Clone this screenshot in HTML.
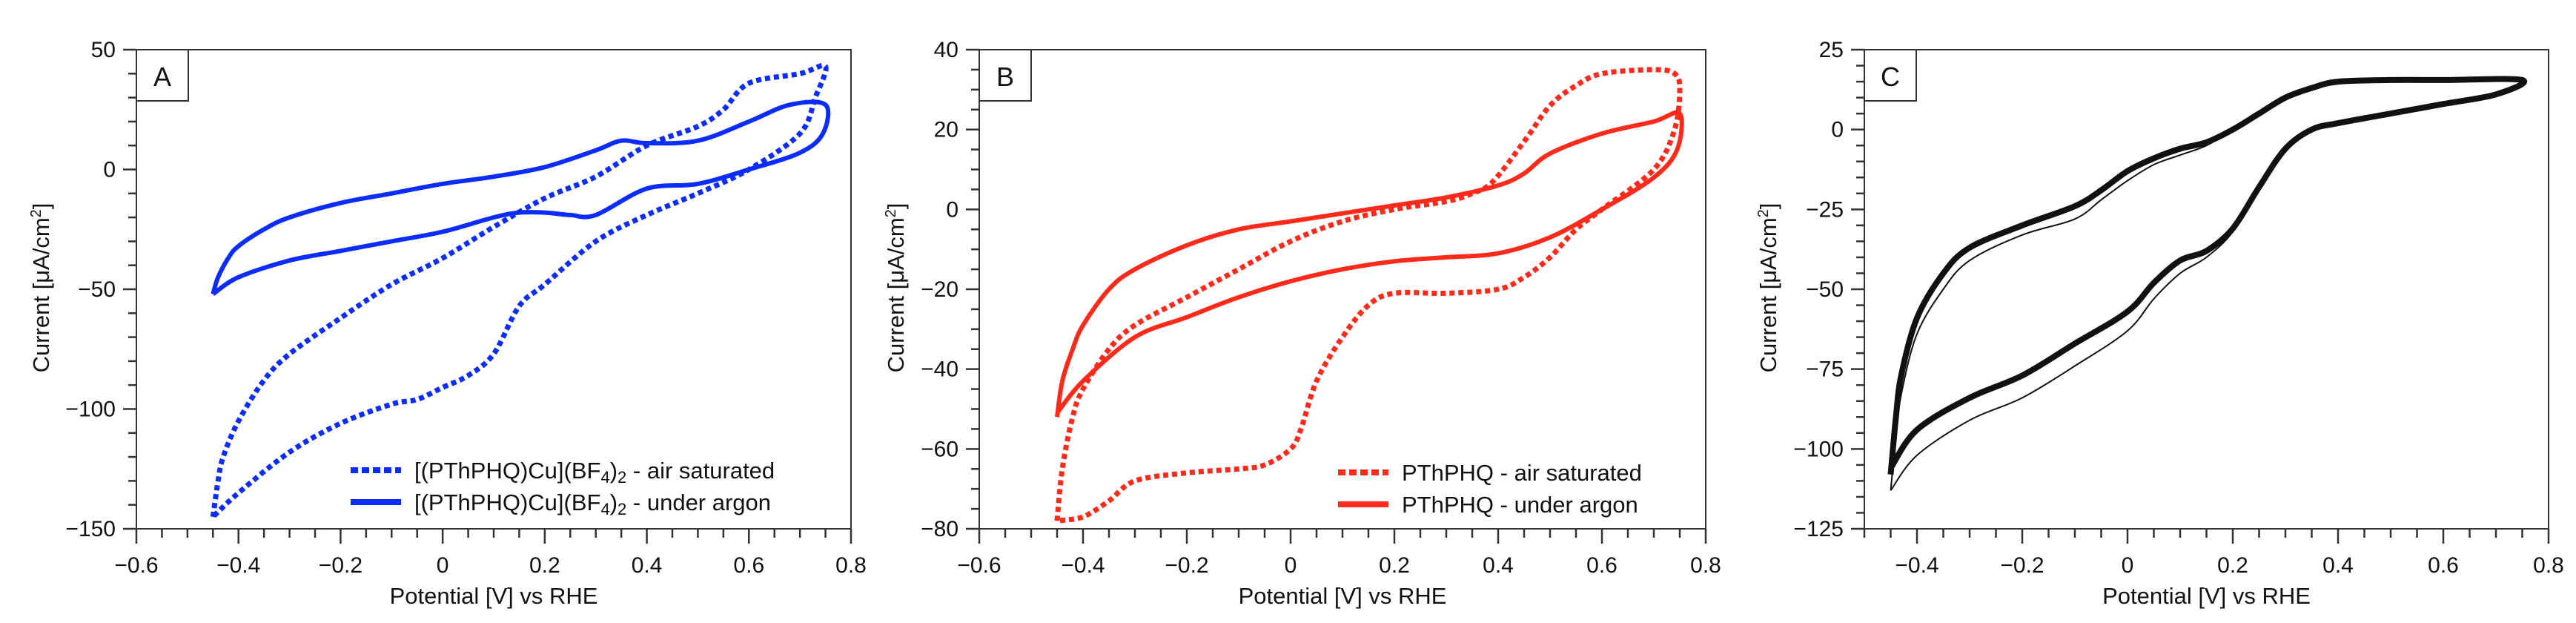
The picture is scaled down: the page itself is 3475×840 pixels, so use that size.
<!DOCTYPE html>
<html><head><meta charset="utf-8"><style>
html,body{margin:0;padding:0;background:#fff;}
svg{display:block;font-family:"Liberation Sans",Arial,sans-serif;}
</style></head><body>
<svg id="fig" width="3475" height="840" viewBox="0 0 3475 840" xmlns="http://www.w3.org/2000/svg"></svg>
<script>
// ---------- Panel A data ----------
const aArgonX = [-0.45,-0.44,-0.42,-0.4,-0.35,-0.3,-0.2,-0.1,0,0.1,0.2,0.3,0.35,0.4,0.5,0.6,0.68,0.75, 0.745,0.7,0.6,0.5,0.4,0.3,0.25,0.2,0.15,0.1,0,-0.1,-0.2,-0.3,-0.4,-0.45];
const aArgonY = [-52,-45,-37,-32,-25,-20,-14,-10,-6,-3,1,8,12,11,12,20,27,27, 15,7,0,-6,-8,-19,-19,-18,-18,-20,-26,-30,-34,-38,-45,-52];
const aAirX = [-0.45,-0.44,-0.43,-0.4,-0.35,-0.3,-0.2,-0.1,0,0.1,0.2,0.3,0.4,0.5,0.55,0.6,0.7,0.75, 0.73,0.7,0.6,0.5,0.4,0.3,0.2,0.15,0.1,0.05,0,-0.05,-0.1,-0.2,-0.3,-0.4,-0.45];
const aAirY = [-145,-130,-120,-105,-88,-77,-62,-48,-37,-24,-12,-3,10,18,25,36,40,43, 30,15,0,-10,-19,-30,-48,-57,-77,-86,-91,-96,-98,-106,-118,-135,-145];
const aXTicks = [-0.6,-0.4,-0.2,0,0.2,0.4,0.6,0.8];
const aYTicks = [50,0,-50,-100,-150];
// ---------- Panel B data ----------
const bArgonX = [-0.45,-0.44,-0.42,-0.4,-0.35,-0.3,-0.2,-0.1,0,0.1,0.2,0.3,0.4,0.45,0.5,0.6,0.7,0.75, 0.745,0.7,0.6,0.5,0.4,0.3,0.2,0.1,0,-0.1,-0.2,-0.3,-0.4,-0.45];
const bArgonY = [-52,-43,-35,-29,-20,-15,-9,-5,-3,-1,1,3,6,9,14,19,22,24, 15,8,0,-7,-11,-12,-13,-15,-18,-22,-27,-32,-43,-51];
const bAirX = [-0.45,-0.44,-0.42,-0.4,-0.35,-0.3,-0.2,-0.1,0,0.1,0.2,0.3,0.35,0.39,0.45,0.5,0.55,0.6,0.7,0.74,0.75, 0.74,0.7,0.6,0.55,0.5,0.45,0.4,0.3,0.2,0.15,0.1,0.05,0.02,0,-0.05,-0.1,-0.2,-0.3,-0.35,-0.4,-0.45];
const bAirY = [-78,-65,-52,-45,-35,-29,-22,-15,-8,-3,0,2,4,7,17,26,31,34,35,34,30, 20,10,0,-5,-12,-17,-20,-21,-21,-24,-32,-43,-55,-60,-64,-65,-66,-68,-73,-77,-78];
const bXTicks = [-0.6,-0.4,-0.2,0,0.2,0.4,0.6,0.8];
const bYTicks = [40,20,0,-20,-40,-60,-80];
// ---------- Panel C data ----------
const cMainX = [-0.45,-0.44,-0.43,-0.4,-0.35,-0.3,-0.2,-0.1,-0.05,0,0.05,0.1,0.15,0.2,0.25,0.3,0.35,0.4,0.5,0.6,0.75, 0.7,0.6,0.5,0.4,0.35,0.3,0.25,0.2,0.15,0.1,0.05,0,-0.1,-0.2,-0.3,-0.4,-0.45];
const cMainY = [-108,-90,-77,-59,-45,-37,-30,-24,-19,-13,-9,-6,-4,0,5,10,13,15,15.5,15.5,15.5, 11,8,5,2,0,-6,-18,-31,-38,-41,-48,-57,-67,-77,-84,-94,-106];
const cFirstY = [-113,-96,-83,-64,-50,-41,-33,-28,-22,-16,-11,-8,-5,0,5,10,13,15,15.5,15.5,15.5, 11,8,5,2,0,-6,-18,-32,-40,-45,-53,-63,-74,-84,-91,-102,-113];
const cXTicks = [-0.4,-0.2,0,0.2,0.4,0.6,0.8];
const cYTicks = [25,0,-25,-50,-75,-100,-125];

const NS = "http://www.w3.org/2000/svg";
const svg = document.getElementById('fig');
function mk(tag, attrs, parent){ const e=document.createElementNS(NS,tag); for(const k in attrs) e.setAttribute(k,attrs[k]); (parent||svg).appendChild(e); return e; }
function smooth(pts){
  let d = "M"+pts[0][0].toFixed(1)+","+pts[0][1].toFixed(1);
  for(let i=0;i<pts.length-1;i++){
    const p0=pts[Math.max(0,i-1)], p1=pts[i], p2=pts[i+1], p3=pts[Math.min(pts.length-1,i+2)];
    const c1=[p1[0]+(p2[0]-p0[0])/6, p1[1]+(p2[1]-p0[1])/6];
    const c2=[p2[0]-(p3[0]-p1[0])/6, p2[1]-(p3[1]-p1[1])/6];
    d+=" C"+c1[0].toFixed(1)+","+c1[1].toFixed(1)+" "+c2[0].toFixed(1)+","+c2[1].toFixed(1)+" "+p2[0].toFixed(1)+","+p2[1].toFixed(1);
  }
  return d;
}
function fmt(v){ return (v<0?"\u2212":"")+String(Math.abs(v)); }

function panel(o){
  const g = mk('g',{});
  
  
  const X = v => o.L + (v-o.xmin)/(o.xmax-o.xmin)*(o.R-o.L);
  const Y = v => o.T + (o.ymax-v)/(o.ymax-o.ymin)*(o.B-o.T);
  const frame = mk('rect',{x:o.L,y:o.T,width:o.R-o.L,height:o.B-o.T,fill:'none',stroke:'#333','stroke-width':2},g);
  
  
  const ya = mk('g',{},g);
  
  
  for(let v=o.ymax; v>=o.ymin-1e-9; v-=o.yMinor){
    const major = o.yTicks.some(t=>Math.abs(t-v)<1e-6);
    mk('line',{x1:o.L-(major?18:11),x2:o.L,y1:Y(v),y2:Y(v),stroke:'#333','stroke-width':2.5},ya);
  }
  o.yTicks.forEach(v=>{
    const t=mk('text',{x:o.L-28,y:Y(v)+10,'text-anchor':'end','font-size':30,fill:'#111'},ya);
    t.textContent=fmt(v);
    
    
  });
  const xa = mk('g',{},g);
  
  
  for(let v=o.xmin; v<=o.xmax+1e-9; v+=0.05){
    const major = o.xTicks.some(t=>Math.abs(t-v)<1e-6);
    mk('line',{x1:X(v),x2:X(v),y1:o.B,y2:o.B+(major?20:12),stroke:'#333','stroke-width':2.5},xa);
  }
  o.xTicks.forEach(v=>{
    const t=mk('text',{x:X(v),y:o.B+59,'text-anchor':'middle','font-size':30,fill:'#111'},xa);
    t.textContent=fmt(v);
    
    
  });
  const xt=mk('text',{x:(o.L+o.R)/2,y:814,'text-anchor':'middle','font-size':31,fill:'#111'},g);
  xt.textContent='Potential [V] vs RHE';
  
  
  const yt=mk('text',{x:0,y:0,'text-anchor':'middle','font-size':31,fill:'#111',transform:`translate(${o.yTitleX},388) rotate(-90)`},g);
  yt.innerHTML='Current [\u03bcA/cm<tspan baseline-shift="super" font-size="20">2</tspan>]';
  
  
  o.series.forEach(s=>{
    const pts = s.x.map((xv,i)=>[X(xv),Y(s.y[i])]);
    const p = mk('path',{d:smooth(pts),fill:'none',stroke:s.color,'stroke-width':s.w,'stroke-linejoin':'round'},g);
    if(s.dash) p.setAttribute('stroke-dasharray',s.dash);
    
    
  });
  const lb=mk('rect',{x:o.L,y:o.T,width:o.boxW,height:69,fill:'#fff',stroke:'#333','stroke-width':2},g);
  
  
  const lt=mk('text',{x:o.L+o.boxW/2,y:o.T+49,'text-anchor':'middle','font-size':36,fill:'#111'},g);
  lt.textContent=o.id;
  
  
}

panel({id:'A',L:184,R:1148,T:67,B:713,xmin:-0.6,xmax:0.8,ymin:-150,ymax:50,yMinor:10,
  xTicks:aXTicks,yTicks:aYTicks,yTitleX:66,boxW:70,
  series:[{name:'series-a-air-saturated',x:aAirX,y:aAirY,color:'#0a2cff',w:7,dash:'7 5'},
          {name:'series-a-under-argon',x:aArgonX,y:aArgonY,color:'#0a2cff',w:6}]});
panel({id:'B',L:1321,R:2301,T:67,B:713,xmin:-0.6,xmax:0.8,ymin:-80,ymax:40,yMinor:5,
  xTicks:bXTicks,yTicks:bYTicks,yTitleX:1219,boxW:70,
  series:[{name:'series-b-air-saturated',x:bAirX,y:bAirY,color:'#ff2a1a',w:7,dash:'7 5'},
          {name:'series-b-under-argon',x:bArgonX,y:bArgonY,color:'#ff2a1a',w:6}]});
panel({id:'C',L:2515,R:3438,T:67,B:713,xmin:-0.5,xmax:0.8,ymin:-125,ymax:25,yMinor:5,
  xTicks:cXTicks,yTicks:cYTicks,yTitleX:2396,boxW:70,
  series:[{name:'series-c-first-cycle',x:cMainX,y:cFirstY,color:'#111',w:2},
          {name:'series-c-cycles',x:cMainX,y:cMainY,color:'#111',w:8}]});

function legend(x,ys,entries,name){
  const lg=mk('g',{});
  
  
  entries.forEach((e,i)=>{
    const y=ys[i];
    const ln=mk('line',{x1:x,x2:x+68,y1:y,y2:y,stroke:e.color,'stroke-width':8},lg);
    if(e.dash) ln.setAttribute('stroke-dasharray',e.dash);
    const t=mk('text',{x:x+86,y:y+11,'font-size':31,fill:'#111'},lg);
    t.innerHTML=e.label;
    
    
  });
}
legend(473,[634,677],[
  {color:'#0a2cff',dash:'10 5',label:'[(PThPHQ)Cu](BF<tspan font-size="22" dy="6">4</tspan><tspan dy="-6">)</tspan><tspan font-size="22" dy="6">2</tspan><tspan dy="-6"> - air saturated</tspan>'},
  {color:'#0a2cff',label:'[(PThPHQ)Cu](BF<tspan font-size="22" dy="6">4</tspan><tspan dy="-6">)</tspan><tspan font-size="22" dy="6">2</tspan><tspan dy="-6"> - under argon</tspan>'}
],'legend-a');
legend(1805,[637,680],[
  {color:'#ff2a1a',dash:'10 5',label:'PThPHQ - air saturated'},
  {color:'#ff2a1a',label:'PThPHQ - under argon'}
],'legend-b');
</script>
</body></html>
